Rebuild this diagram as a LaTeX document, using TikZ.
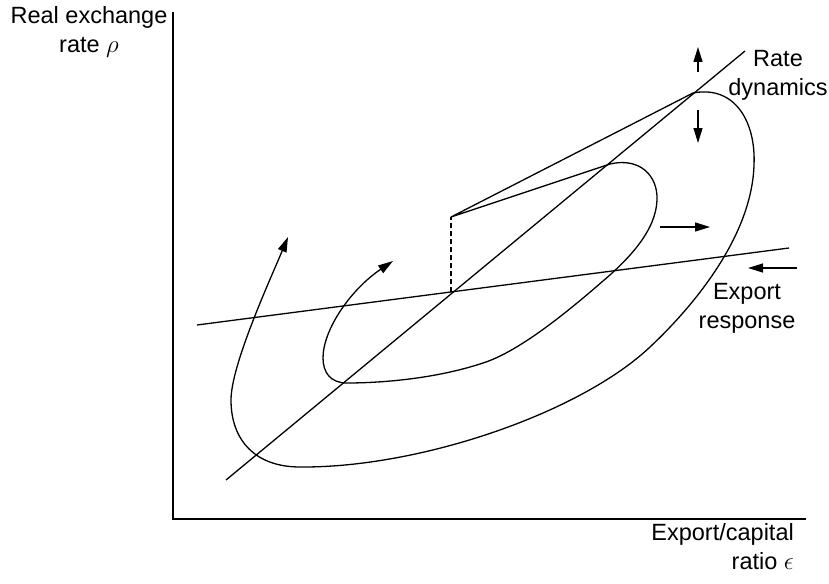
\documentclass[tikz,border=0pt]{standalone}
\usepackage{fontspec}
\setmainfont{Liberation Sans}
\usetikzlibrary{arrows.meta, positioning}

\begin{document}
\begin{tikzpicture}[
    x=1pt, y=-1pt,
    curve/.style={draw, line width=1.3pt, line join=round},
    axis/.style={draw, line width=1.4pt},
    arrow/.style={draw, line width=1.3pt, -{Triangle[length=15pt, width=9pt]}},
    lbl/.style={inner sep=0pt, align=center, font=\fontsize{23.5}{29}\selectfont}
  ]
  \useasboundingbox (0,0) rectangle (829,583);

  % Ejes
  \coordinate (origin) at (173,519);
  \coordinate (ytop) at (173,12);
  \coordinate (xend) at (806,519);
  \draw[axis] (ytop) -- (origin) -- (xend);
  \node[lbl, anchor=north] (ylabel) at (89,6) {Real exchange\\rate $\rho$};
  \node[lbl, anchor=north east, align=right] (xlabel) at (794,523) {Export/capital\\ratio $\epsilon$};

  % Las dos rectas
  \coordinate (rdlow) at (226,480);
  \coordinate (rdhigh) at (745,51);
  \coordinate (erleft) at (197,325);
  \coordinate (erright) at (789,248);
  \draw[curve] (rdlow) -- (rdhigh);
  \draw[curve] (erleft) -- (erright);
  \node[lbl, anchor=north] (rdlabel) at (778,50) {Rate\\dynamics};
  \node[lbl, anchor=north] (erlabel) at (747,283) {Export\\response};

  % Salto y trayectorias
  \coordinate (steady) at (451,292);
  \coordinate (jump) at (451,217);
  \coordinate (innerstart) at (610,164);
  \coordinate (outerstart) at (693,93);
  \draw[curve, dash pattern=on 5pt off 3pt] (steady) -- (jump);
  \draw[curve] (outerstart) -- (jump) -- (innerstart);

  \draw[arrow] (innerstart) .. controls (640,157) and (658,176) .. (657,200)
    .. controls (656,230) and (630,258) .. (603,281)
    .. controls (573,307) and (521,351) .. (483,363)
    .. controls (435,379) and (380,383) .. (347,383)
    .. controls (330,383) and (323,372) .. (323,358)
    .. controls (323,330) and (350,290) .. (393,261);
  \draw[arrow] (outerstart) .. controls (735,85) and (756,122) .. (754,165)
    .. controls (752,232) and (700,300) .. (650,347)
    .. controls (580,413) and (420,468) .. (300,467)
    .. controls (255,467) and (231,440) .. (231,400)
    .. controls (231,365) and (270,280) .. (288,237);

  % Flechas de dinamica
  \coordinate (upfrom) at (698,72);
  \coordinate (upto) at (698,47);
  \coordinate (downfrom) at (698,110);
  \coordinate (downto) at (698,143);
  \coordinate (rightfrom) at (660,227);
  \coordinate (rightto) at (710,227);
  \coordinate (leftfrom) at (797,268);
  \coordinate (leftto) at (748,268);
  \draw[arrow] (upfrom) -- (upto);
  \draw[arrow] (downfrom) -- (downto);
  \draw[arrow] (rightfrom) -- (rightto);
  \draw[arrow] (leftfrom) -- (leftto);
\end{tikzpicture}
\end{document}
